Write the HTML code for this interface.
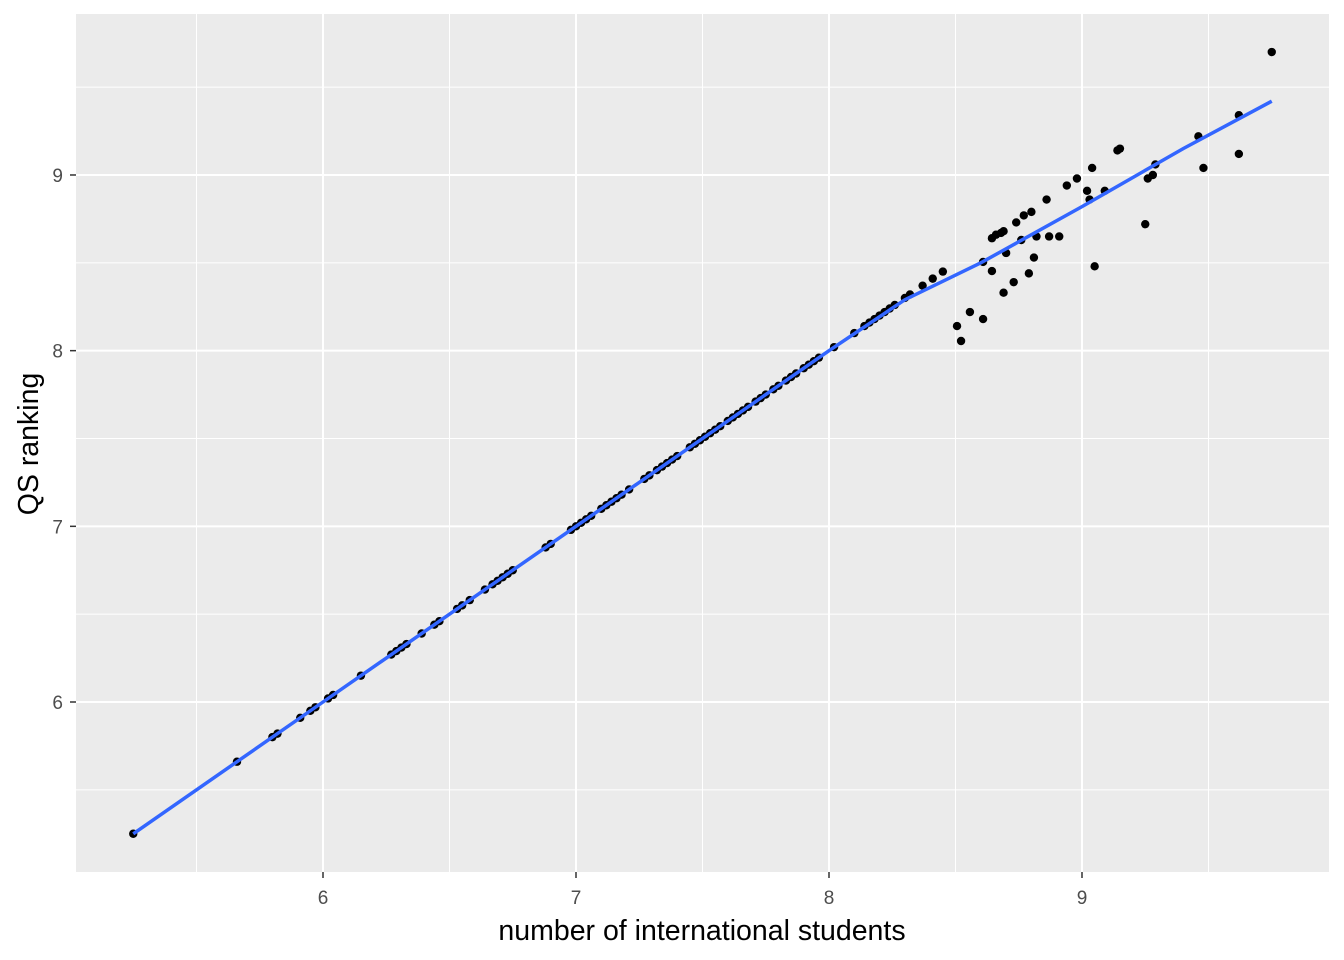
<!DOCTYPE html>
<html><head><meta charset="utf-8"><style>
body{margin:0;background:#fff}
svg{display:block;font-family:"Liberation Sans",Arial,sans-serif}
</style></head><body>
<svg id="chart" width="1344" height="960">
<rect x="76" y="14" width="1253" height="858" fill="#ebebeb"/>
<g id="grid"></g><g id="pts"></g><g id="fit"></g><g id="axes"></g>
<text x="702" y="940" font-size="28.5" text-anchor="middle" fill="#000">number of international students</text>
<text transform="translate(38,444) rotate(-90)" font-size="28.5" text-anchor="middle" fill="#000">QS ranking</text>
</svg>
<script>
const xTicks=[6,7,8,9];
const yTicks=[6,7,8,9];
const diagX=[5.25,5.66,5.80,5.82,5.91,5.95,5.97,6.02,6.04,6.15,6.27,6.29,6.31,6.33,6.39,6.44,6.46,6.53,6.55,6.58,6.64,6.67,6.69,6.71,6.73,6.75,6.88,6.90,6.98,7.00,7.02,7.04,7.06,7.10,7.12,7.14,7.16,7.18,7.21,7.27,7.29,7.32,7.34,7.36,7.38,7.40,7.45,7.47,7.49,7.51,7.53,7.55,7.57,7.60,7.62,7.64,7.66,7.68,7.71,7.73,7.75,7.78,7.80,7.83,7.85,7.87,7.90,7.92,7.94,7.96,8.02,8.10,8.14,8.16,8.18,8.20,8.22,8.24,8.26,8.30,8.32,8.37,8.41,8.45];
const scatX=[8.506,8.522,8.557,8.609,8.609,8.644,8.644,8.66,8.68,8.69,8.69,8.70,8.73,8.74,8.76,8.77,8.80,8.79,8.81,8.82,8.86,8.87,8.91,8.94,8.98,9.02,9.03,9.04,9.05,9.09,9.14,9.15,9.25,9.26,9.28,9.29,9.46,9.48,9.62,9.62,9.75];
const scatY=[8.14,8.055,8.22,8.18,8.505,8.453,8.64,8.66,8.67,8.68,8.33,8.556,8.39,8.73,8.63,8.77,8.79,8.44,8.53,8.65,8.86,8.65,8.65,8.94,8.98,8.91,8.86,9.04,8.48,8.91,9.14,9.15,8.72,8.98,9.0,9.06,9.22,9.04,9.34,9.12,9.70];
const fitX=[5.25,6,7,8,8.3,8.6,9,9.4,9.75];
const fitY=[5.25,6,7,8,8.29,8.5,8.82,9.15,9.42];
const sx=v=>323+(v-6)*253, sy=v=>702-(v-6)*175.67;
const NS="http://www.w3.org/2000/svg";
function mk(t,p,a){const e=document.createElementNS(NS,t);for(const k in a)e.setAttribute(k,a[k]);p.appendChild(e);return e;}
const grid=document.getElementById('grid'),axes=document.getElementById('axes');
[5.5,6.5,7.5,8.5,9.5].forEach(v=>{const l=mk('line',grid,{x1:sx(v),x2:sx(v),y1:14,y2:872,stroke:'#fff','stroke-width':1});

});
[5.5,6.5,7.5,8.5,9.5].forEach(v=>{const l=mk('line',grid,{y1:sy(v),y2:sy(v),x1:76,x2:1329,stroke:'#fff','stroke-width':1});

});
xTicks.forEach(v=>{const l=mk('line',grid,{x1:sx(v),x2:sx(v),y1:14,y2:872,stroke:'#fff','stroke-width':2});


const t=mk('line',axes,{x1:sx(v),x2:sx(v),y1:872,y2:878,stroke:'#333','stroke-width':1.5});


const tx=mk('text',axes,{x:sx(v),y:904,'font-size':19,'text-anchor':'middle',fill:'#4d4d4d'});tx.textContent=v;

});
yTicks.forEach(v=>{const l=mk('line',grid,{y1:sy(v),y2:sy(v),x1:76,x2:1329,stroke:'#fff','stroke-width':2});


const t=mk('line',axes,{x1:70,x2:76,y1:sy(v),y2:sy(v),stroke:'#333','stroke-width':1.5});


const tx=mk('text',axes,{x:63,y:sy(v)+7,'font-size':19,'text-anchor':'end',fill:'#4d4d4d'});tx.textContent=v;

});
const pts=document.getElementById('pts');
diagX.forEach(v=>{const c=mk('circle',pts,{cx:sx(v),cy:sy(v),r:4.2,fill:'#000'});

});
scatX.forEach((v,i)=>{const c=mk('circle',pts,{cx:sx(v),cy:sy(scatY[i]),r:4.2,fill:'#000'});

});
const f=mk('polyline',document.getElementById('fit'),{points:fitX.map((v,i)=>sx(v)+','+sy(fitY[i])).join(' '),fill:'none',stroke:'#3366ff','stroke-width':3.5});


</script>
</body></html>
